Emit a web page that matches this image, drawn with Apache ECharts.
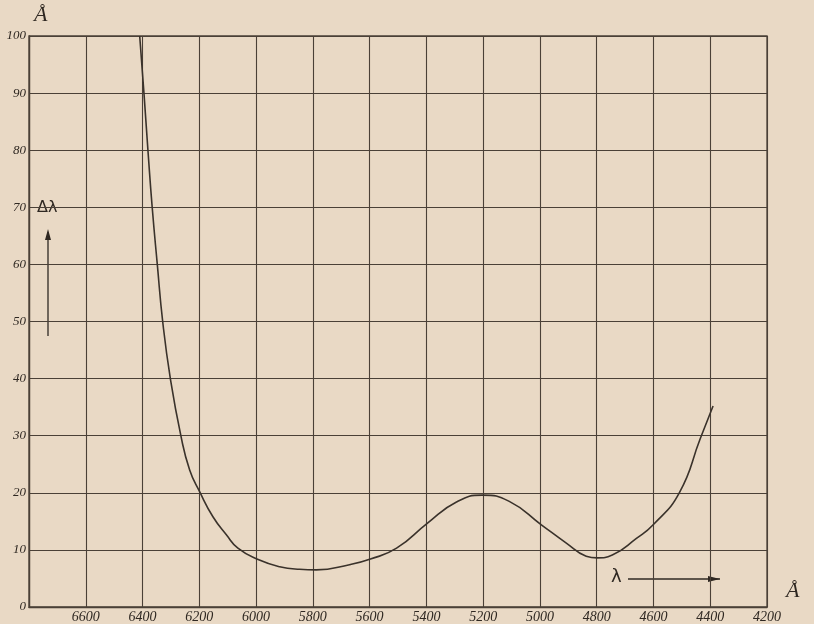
<!DOCTYPE html>
<html>
<head>
<meta charset="utf-8">
<script src="https://cdn.jsdelivr.net/npm/echarts@6/dist/echarts.min.js"></script>
<style>
html,body{margin:0;padding:0;background:#e9d9c5;}
#c{width:814px;height:624px;}
</style>
</head>
<body>
<div id="c"></div>
<script>
// Wavelength (Å) and Δλ values
const wavelengths = [6410, 6395, 6381, 6366, 6348, 6329, 6302, 6265, 6234, 6198, 6152, 6104, 6064, 5995, 5917, 5847, 5788, 5671, 5597, 5505, 5396, 5294, 5203, 5108, 4995, 4907, 4837, 4798, 4745, 4660, 4601, 4509, 4435, 4390];
const deltaLambda = [100, 90, 80, 70, 60, 50, 40, 30, 24, 20.1, 15.8, 12.6, 10.3, 8.35, 7.06, 6.6, 6.5, 7.4, 8.4, 10.3, 14.7, 18.4, 19.6, 18.5, 14.4, 11.2, 8.9, 8.6, 9.1, 12.0, 14.4, 20, 29.5, 35.2];
const xTickMin = 4200, xTickMax = 6800, xTickStep = 200;
const yTickMin = 0, yTickMax = 100, yTickStep = 10;

const ink = '#2f2822';
const lineInk = '#4a4037';
const labelFont = 'Liberation Serif';

const chart = echarts.init(document.getElementById('c'), null, {renderer: 'canvas'});
chart.setOption({
  backgroundColor: '#e9d9c5',
  animation: false,
  grid: {left: 29, right: 47, top: 36, bottom: 17, show: true, borderColor: lineInk, borderWidth: 1.3},
  xAxis: {
    type: 'value', inverse: true, min: xTickMin, max: xTickMax, interval: xTickStep,
    axisLine: {show: true, lineStyle: {color: lineInk, width: 1.4}},
    axisTick: {show: false},
    splitLine: {show: true, lineStyle: {color: lineInk, width: 1.1}},
    axisLabel: {
      color: ink, fontFamily: labelFont, fontStyle: 'italic', fontSize: 14, margin: 3,
      formatter: v => v === xTickMax ? '' : String(v)
    }
  },
  yAxis: {
    type: 'value', min: yTickMin, max: yTickMax, interval: yTickStep,
    axisLine: {show: true, lineStyle: {color: lineInk, width: 1.4}},
    axisTick: {show: false},
    splitLine: {show: true, lineStyle: {color: lineInk, width: 1.1}},
    axisLabel: {color: ink, fontFamily: labelFont, fontStyle: 'italic', fontSize: 13, margin: 3}
  },
  series: [{
    type: 'line', smooth: 0.5, showSymbol: false,
    data: wavelengths.map((w, i) => [w, deltaLambda[i]]),
    lineStyle: {color: '#3a322b', width: 1.6}
  }],
  graphic: [
    {type: 'text', left: 34, top: 4, style: {text: 'Å', font: 'italic 22px "Liberation Serif"', fill: ink}},
    {type: 'text', left: 786, top: 580, style: {text: 'Å', font: 'italic 22px "Liberation Serif"', fill: ink}},
    {type: 'text', left: 37, top: 200, style: {text: 'Δλ', font: '16px "DejaVu Sans"', fill: ink}},
    {type: 'line', shape: {x1: 48, y1: 336, x2: 48, y2: 232}, style: {stroke: ink, lineWidth: 1.3}},
    {type: 'polygon', shape: {points: [[45, 240], [51, 240], [48, 229]]}, style: {fill: ink}},
    {type: 'text', left: 611, top: 568, style: {text: 'λ', font: '18px "DejaVu Sans"', fill: ink}},
    {type: 'line', shape: {x1: 628, y1: 579, x2: 720, y2: 579}, style: {stroke: ink, lineWidth: 1.3}},
    {type: 'polygon', shape: {points: [[708, 576], [708, 582], [720, 579]]}, style: {fill: ink}}
  ]
});
</script>
</body>
</html>
